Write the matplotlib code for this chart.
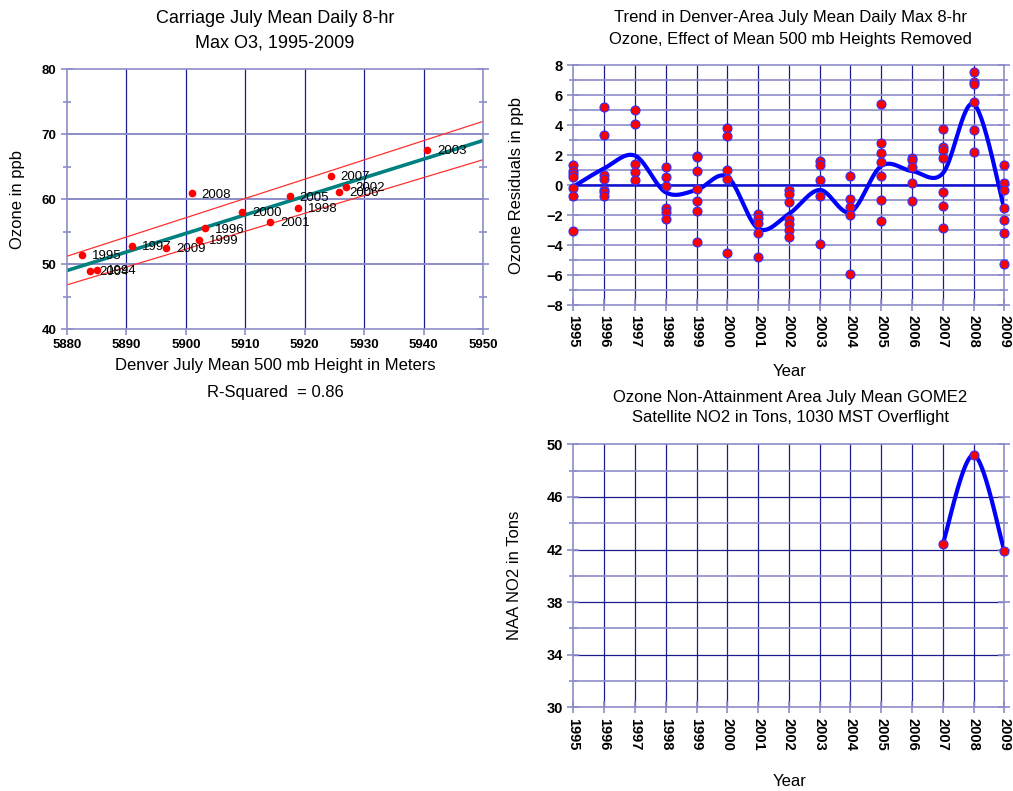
import numpy as np
import matplotlib
matplotlib.use("Agg")
import matplotlib.pyplot as plt

plt.rcParams['font.family'] = ['Liberation Sans', 'DejaVu Sans']

# --- data ---
# scatter: July mean 500 mb height vs ozone
heights = [5885.1, 5882.5, 5903.3, 5890.9, 5918.9, 5902.2, 5909.5, 5914.2,
           5926.9, 5940.6, 5883.8, 5917.5, 5925.8, 5924.4, 5901.0, 5896.7]
ozone = [49.1, 51.4, 55.5, 52.8, 58.7, 53.7, 58.0, 56.5,
         61.9, 67.6, 49.0, 60.4, 61.1, 63.6, 60.9, 52.5]
point_labels = ['1994', '1995', '1996', '1997', '1998', '1999', '2000', '2001',
                '2002', '2003', '2004', '2005', '2006', '2007', '2008', '2009']
fit_x = [5880, 5950]
fit_y = [49.0, 69.0]
band_hi = [51.2, 71.95]
band_lo = [46.8, 66.05]

# residuals per year
years = list(range(1995, 2010))
resid = [
    [1.35, 0.91, 0.73, 0.55, -0.22, -0.73, -3.07],
    [5.2, 3.31, 0.67, 0.42, -0.33, -0.49, -0.71],
    [5.0, 4.05, 1.42, 0.89, 0.33],
    [1.2, 0.51, -0.07, -1.51, -1.82, -2.29],
    [1.95, 1.84, 0.91, -0.29, -1.09, -1.76, -3.82],
    [3.82, 3.24, 1.0, 0.38, -4.51],
    [-1.93, -2.22, -2.56, -3.22, -4.82],
    [-0.33, -0.62, -1.16, -2.29, -2.6, -3.0, -3.44],
    [1.6, 1.31, 0.33, -0.73, -3.91],
    [0.58, -0.93, -1.44, -2.0, -5.93],
    [5.42, 2.8, 2.13, 1.56, 0.58, -1.02, -2.42],
    [1.82, 1.67, 1.22, 0.11, -1.09],
    [3.76, 2.53, 2.33, 1.78, -0.44, -1.4, -2.84],
    [7.53, 6.87, 6.73, 5.56, 3.69, 2.2],
    [1.31, 0.13, -0.36, -1.56, -2.31, -3.22, -5.29],
]
trend = [-0.11, 1.11, 1.96, -0.49, -0.33, 0.55, -2.9, -1.93,
         -0.33, -1.8, 1.27, 0.93, 0.78, 5.4, -1.6]

# satellite NO2
no2_years = [2007, 2008, 2009]
no2_tons = [42.42, 49.19, 41.9]

NAVY = '#1c1c8c'
LAV = '#8c8cc8'


def smooth(x, y, n=30):
    # Excel-like smoothed line (Catmull-Rom as cubic bezier)
    x = np.asarray(x, float)
    y = np.asarray(y, float)
    px = np.concatenate([[x[0]], x, [x[-1]]])
    py = np.concatenate([[y[0]], y, [y[-1]]])
    t = np.linspace(0, 1, n)
    xs, ys = [], []
    for i in range(1, len(px) - 2):
        p0, p1, p2, p3 = (np.array([px[j], py[j]]) for j in (i - 1, i, i + 1, i + 2))
        c1 = p1 + (p2 - p0) / 6
        c2 = p2 - (p3 - p1) / 6
        b = (np.outer((1 - t) ** 3, p1) + np.outer(3 * (1 - t) ** 2 * t, c1)
             + np.outer(3 * (1 - t) * t ** 2, c2) + np.outer(t ** 3, p2))
        xs.append(b[:, 0])
        ys.append(b[:, 1])
    return np.concatenate(xs), np.concatenate(ys)


def style_axes(ax):
    for s in ax.spines.values():
        s.set_color(LAV)
        s.set_linewidth(1.2)
    ax.tick_params(which='both', direction='inout', colors=LAV,
                   labelcolor='black', length=8, width=1.2)
    ax.tick_params(which='minor', length=6)
    for lab in ax.get_xticklabels() + ax.get_yticklabels():
        lab.set_fontweight('bold')


fig = plt.figure(figsize=(10.13, 7.91), dpi=100)

# ---------------- top-left scatter ----------------
ax1 = fig.add_axes([0.0661, 0.584, 0.4107, 0.3287])
ax1.set_xlim(5880, 5950)
ax1.set_ylim(40, 80)
ax1.set_xticks(range(5880, 5951, 10))
ax1.set_yticks(range(40, 81, 10))
ax1.set_yticks(range(45, 80, 10), minor=True)
for xv in range(5890, 5950, 10):
    ax1.axvline(xv, color=NAVY, lw=0.9, zorder=0)
for yv in range(50, 80, 10):
    ax1.axhline(yv, color=LAV, lw=1.4, zorder=0)
ax1.plot(fit_x, band_hi, color='#ff3030', lw=0.9)
ax1.plot(fit_x, band_lo, color='#ff3030', lw=0.9)
ax1.plot(fit_x, fit_y, color='#008080', lw=2.6)
ax1.plot(heights, ozone, 'o', color='#ff0000', ms=5.5, mec='none', zorder=5)
for hx, oy, lab in zip(heights, ozone, point_labels):
    ax1.annotate(lab, (hx, oy), xytext=(7, -1), textcoords='offset points',
                 va='center', ha='left', fontsize=9.5)
ax1.tick_params(axis='x', labelsize=9.5)
ax1.tick_params(axis='y', labelsize=9.5)
style_axes(ax1)
ax1.tick_params(axis='y', right=True, which='both')
ax1.tick_params(axis='x', length=4, direction='out')
ax1.set_ylabel('Ozone in ppb', fontsize=12, labelpad=12)
fig.text(275 / 1013, 1 - 10 / 791, 'Carriage July Mean Daily 8-hr\nMax O3, 1995-2009',
         ha='center', va='top', fontsize=13, linespacing=1.55)
fig.text(275 / 1013, 1 - 366 / 791, 'Denver July Mean 500 mb Height in Meters',
         ha='center', va='center', fontsize=12)
fig.text(275 / 1013, 1 - 392 / 791, 'R-Squared  = 0.86',
         ha='center', va='center', fontsize=12)

# ---------------- top-right residuals ----------------
ax2 = fig.add_axes([0.566, 0.6144, 0.4255, 0.3034])
ax2.set_xlim(1995, 2009)
ax2.set_ylim(-8, 8)
ax2.set_xticks(years)
ax2.set_xticklabels([str(y) for y in years], rotation=-90, fontsize=10.5)
ax2.set_yticks(range(-8, 9, 2))
ax2.set_yticks(range(-7, 8, 2), minor=True)
ax2.tick_params(axis='y', labelsize=10.5)
for yr in years[1:-1]:
    ax2.axvline(yr, color=NAVY, lw=0.9, zorder=0)
for yv in range(-7, 8):
    ax2.axhline(yv, color=LAV, lw=1.2, zorder=0)
ax2.axhline(0, color='#1010d0', lw=1.8, zorder=1)
for yr, vals in zip(years, resid):
    ax2.plot([yr] * len(vals), vals, 'o', color='#ff0000', mec='#3030ff',
             mew=0.8, ms=6.5, zorder=4, clip_on=False)
sx, sy = smooth(years, trend)
ax2.plot(sx, sy, color='#0000ff', lw=3, zorder=3)
style_axes(ax2)
ax2.tick_params(axis='y', right=True, which='both')
ax2.set_ylabel('Ozone Residuals in ppb', fontsize=12, labelpad=16)
fig.text(790 / 1013, 1 - 10 / 791,
         'Trend in Denver-Area July Mean Daily Max 8-hr\nOzone, Effect of Mean 500 mb Heights Removed',
         ha='center', va='top', fontsize=12, linespacing=1.55)
fig.text(790 / 1013, 1 - 372 / 791, 'Year', ha='center', va='center', fontsize=12)

# ---------------- bottom-right NO2 ----------------
ax3 = fig.add_axes([0.566, 0.1058, 0.4255, 0.3325])
ax3.set_xlim(1995, 2009)
ax3.set_ylim(30, 50)
ax3.set_xticks(years)
ax3.set_xticklabels([str(y) for y in years], rotation=-90, fontsize=10.5)
ax3.set_yticks(range(30, 51, 4))
ax3.set_yticks(range(32, 50, 4), minor=True)
ax3.tick_params(axis='y', labelsize=10.5)
for yr in years[1:-1]:
    ax3.axvline(yr, color=NAVY, lw=0.9, zorder=0)
for yv in range(34, 50, 4):
    ax3.axhline(yv, color=NAVY, lw=0.9, zorder=0)
for yv in range(32, 50, 4):
    ax3.axhline(yv, color=LAV, lw=1.2, zorder=0)
nx, ny = smooth(no2_years, no2_tons)
ax3.plot(nx, ny, color='#0000ff', lw=3, zorder=3)
ax3.plot(no2_years, no2_tons, 'o', color='#ff0000', mec='#3030ff',
         mew=0.8, ms=6.5, zorder=4, clip_on=False)
style_axes(ax3)
ax3.tick_params(axis='y', right=True, which='both')
ax3.set_ylabel('NAA NO2 in Tons', fontsize=12, labelpad=18)
fig.text(790 / 1013, 1 - 390 / 791,
         'Ozone Non-Attainment Area July Mean GOME2\nSatellite NO2 in Tons, 1030 MST Overflight',
         ha='center', va='top', fontsize=12, linespacing=1.45)
fig.text(790 / 1013, 1 - 782 / 791, 'Year', ha='center', va='center', fontsize=12)

fig.savefig('out.png', dpi=100)
